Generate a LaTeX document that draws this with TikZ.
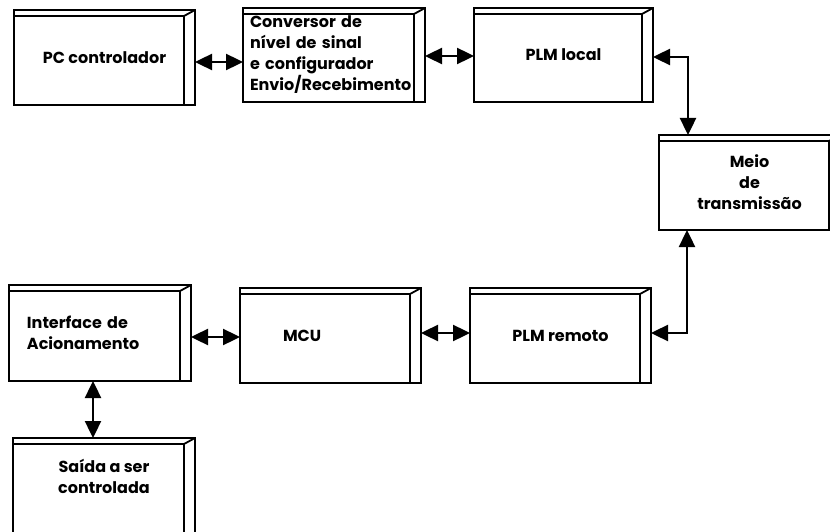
\documentclass[tikz,border=0pt]{standalone}
\usepackage{fontspec}
\setmainfont{Poppins}
\usetikzlibrary{arrows.meta}
\tikzset{bloco/.style={draw, line width=2.8pt, outer sep=0pt, inner sep=0pt,
	minimum width=181pt, minimum height=95pt, align=center,
	font=\fontsize{16}{21}\selectfont\bfseries},
	seta/.style={line width=2.4pt,
	{Triangle[length=17pt,width=16pt]}-{Triangle[length=17pt,width=16pt]}}}
\newcommand{\bisel}[1]{%
  \draw[line width=1.8pt] ([yshift=-6pt]#1.north west) -- ([xshift=-11pt,yshift=-6pt]#1.north east)
    -- ([xshift=-11pt]#1.south east);
  \draw[line width=1.8pt] ([xshift=-11pt,yshift=-6pt]#1.north east) -- (#1.north east);}

\begin{document}
\begin{tikzpicture}[x=1pt,y=-1pt]
\useasboundingbox (0,0) rectangle (830,532);
\node [bloco] (pc) at (104.5,57.5) {PC controlador};
\node [bloco, minimum width=182pt, minimum height=94pt, text width=168pt,
  inner xsep=7pt, align=left] (conv) at (334,55)
  {Conversor de\\n\'ivel de sinal\\e configurador\\Envio/Recebimento};
\node [bloco, minimum width=179pt, minimum height=94pt] (plml) at (563.5,55) {PLM local};
\node [bloco] (meio) at (749.5,182.5) {Meio\\de\\transmiss\~ao};
\node [bloco] (plmr) at (560.5,335.5) {PLM remoto};
\node [bloco, text width=95pt, inner xsep=43pt, align=left] (mcu) at (330.5,335.5) {MCU};
\node [bloco, minimum width=182pt, minimum height=96pt, text width=146pt,
  inner xsep=18pt, align=left] (intf) at (100,333) {Interface de\\Acionamento};
\node [bloco, minimum width=182pt, minimum height=97pt] (saida) at (104,486.5)
  {Sa\'ida a ser\\controlada\\\mbox{}};
\bisel{pc}
\bisel{conv}
\bisel{plml}
\bisel{meio}
\bisel{plmr}
\bisel{mcu}
\bisel{intf}
\bisel{saida}
\draw [seta] ([yshift=-4.5pt]pc.east) -- ([yshift=-4.5pt]pc.east -| conv.west);
\draw [seta] ([yshift=-1pt]conv.east) -- ([yshift=-1pt]conv.east -| plml.west);
\draw [seta] ([yshift=-2pt]plml.east) -| ([xshift=-61.5pt]meio.north);
\draw [seta] ([yshift=2.5pt]plmr.east) -| ([xshift=-62.5pt]meio.south);
\draw [seta] ([yshift=2.5pt]mcu.east) -- ([yshift=2.5pt]mcu.east -| plmr.west);
\draw [seta] ([yshift=-4pt]intf.east) -- ([yshift=-4pt]intf.east -| mcu.west);
\draw [seta] ([xshift=-7pt]intf.south) -- ([xshift=-7pt]intf.south |- saida.north);
\end{tikzpicture}
\end{document}
